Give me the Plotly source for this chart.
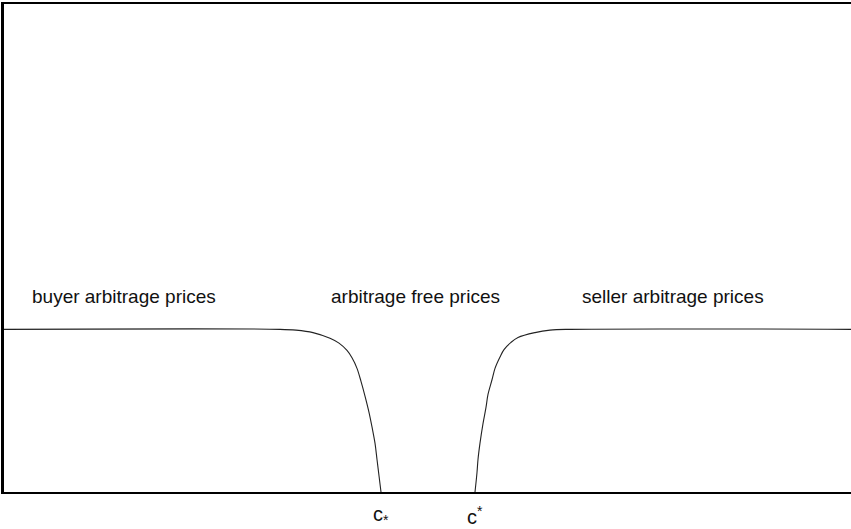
import plotly.graph_objects as go

# Data (x in arbitrary price units, y in relative price units)
left_x = [0, 276, 292, 309, 326, 335, 343, 348, 353, 357, 361, 365, 368, 371, 373, 375, 377]
left_y = [1.0, 1.0, 0.995, 0.98, 0.945, 0.915, 0.87, 0.825, 0.76, 0.68, 0.59, 0.49, 0.40, 0.30, 0.20, 0.10, 0.0]
right_x = [471, 473, 474, 476, 479, 482, 484, 488, 491, 496, 500, 507, 514, 531, 546, 566, 847]
right_y = [0.0, 0.12, 0.20, 0.30, 0.42, 0.52, 0.60, 0.69, 0.76, 0.83, 0.875, 0.92, 0.95, 0.98, 0.995, 1.0, 1.0]

region_labels = ["buyer arbitrage prices", "arbitrage free prices", "seller arbitrage prices"]
region_x = [120, 411, 669]
region_y = [1.2, 1.2, 1.2]

bound_labels = ["c<sub>*</sub>", "c<sup>*</sup>"]
bound_x = [377, 471]

FONT = "Liberation Sans, Arial, Helvetica, sans-serif"

fig = go.Figure()
for xs, ys in [(left_x, left_y), (right_x, right_y)]:
    fig.add_trace(go.Scatter(x=xs, y=ys, mode="lines",
                             line=dict(color="#222222", width=1.1, shape="spline", smoothing=1.0),
                             hoverinfo="skip", showlegend=False))

for t, x, y in zip(region_labels, region_x, region_y):
    fig.add_annotation(x=x, y=y, text=t, showarrow=False, xref="x", yref="y",
                       font=dict(family=FONT, size=19, color="#111111"))

for t, x in zip(bound_labels, bound_x):
    fig.add_annotation(x=x, y=-0.018, text=t, showarrow=False, xref="x", yref="paper",
                       yanchor="top",
                       font=dict(family=FONT, size=20, color="#111111"))

fig.update_layout(
    width=851, height=529,
    margin=dict(l=4, r=0, t=4, b=37),
    paper_bgcolor="white", plot_bgcolor="white",
    xaxis=dict(range=[0, 847], showline=True, mirror=True, linecolor="black", linewidth=2,
               showgrid=False, zeroline=False, showticklabels=False, ticks=""),
    yaxis=dict(range=[0, 3], showline=True, mirror=False, linecolor="black", linewidth=3,
               showgrid=False, zeroline=False, showticklabels=False, ticks=""),
)

fig.write_html("out.html", config={"displayModeBar": False},
               post_script="document.body.style.margin='0';document.body.style.overflow='hidden';")
